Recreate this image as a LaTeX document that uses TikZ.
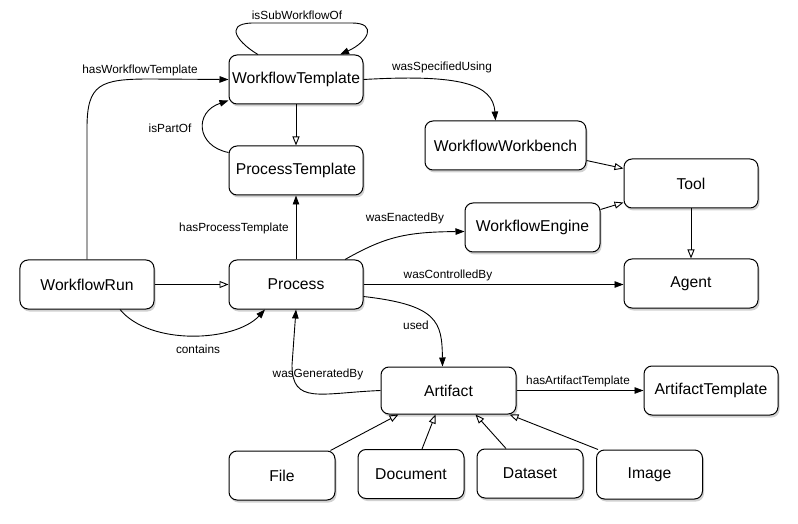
\documentclass[tikz,border=0pt]{standalone}
\usepackage{fontspec}
\setmainfont{Liberation Sans}
\usetikzlibrary{arrows.meta,shadows,calc}
\begin{document}
\begin{tikzpicture}[x=1bp,y=-1bp,
 box/.style={draw, line width=1bp, rounded corners=8bp, minimum width=134bp, minimum height=49bp, fill=white, inner sep=0pt,
   font=\fontsize{15.7bp}{18bp}\selectfont,
   drop shadow={shadow xshift=1.5bp, shadow yshift=-2.5bp, opacity=0.18, fill=black}},
 sbox/.style={box, minimum width=106bp},
 lbl/.style={font=\fontsize{11.8bp}{14bp}\selectfont, inner sep=0pt},
 conn/.style={line width=0.9bp},
 fa/.style={conn, -{Triangle[length=9bp,width=6.5bp]}},
 oa/.style={conn, -{Triangle[open,length=9bp,width=7bp]}},
]
\useasboundingbox (0,0) rectangle (798,524);

\node[box] (wt) at (296,79.5) {WorkflowTemplate};
\node[box] (pt) at (296,170.5) {ProcessTemplate};
\node[box, minimum width=161bp] (ww) at (505.5,145.5) {WorkflowWorkbench};
\node[box] (tl) at (691,183.5) {Tool};
\node[box, minimum width=135bp] (we) at (532.5,227.5) {WorkflowEngine};
\node[box] (ag) at (691,283.5) {Agent};
\node[box] (wr) at (87,284.5) {WorkflowRun};
\node[box] (pr) at (296,284.5) {Process};
\node[box, minimum width=135bp, minimum height=47bp] (ar) at (448.5,390.5) {Artifact};
\node[box] (at) at (711,390.5) {ArtifactTemplate};
\node[sbox] (fi) at (282,475.5) {File};
\node[sbox] (do) at (411,474) {Document};
\node[sbox] (ds) at (530,473.5) {Dataset};
\node[sbox] (im) at (649.5,474.5) {Image};

% isSubWorkflowOf (self loop)
\draw[fa] ([xshift=-38bp]wt.north) .. controls (240,44) and (222,24) .. (252,23)
  -- (352,23) .. controls (378,23) and (368,42) .. ([xshift=44bp]wt.north);
\node[lbl] (l1) at (297,15) {isSubWorkflowOf};

% hasWorkflowTemplate
\draw[fa] (wr.north) -- (87,128) .. controls (87,84) and (100,79) .. (150,79) -- (wt.west);
\node[lbl] (l2) at (140,70) {hasWorkflowTemplate};

% WorkflowTemplate -> ProcessTemplate
\draw[oa] (wt.south) -- (pt.north);

% isPartOf
\draw[fa] ([yshift=18bp]pt.west) .. controls (196,146) and (194,112) .. ([yshift=4bp]wt.south west);
\node[lbl] (l3) at (170,128) {isPartOf};

% wasSpecifiedUsing
\draw[fa] (wt.east) .. controls (460,74) and (493,84) .. ([xshift=-10bp]ww.north);
\node[lbl] (l4) at (442,67) {wasSpecifiedUsing};

% Workbench / Engine -> Tool
\draw[oa] ([yshift=-15bp]ww.east) -- ([yshift=15bp]tl.west);
\draw[oa] ([yshift=18bp]we.east) -- ([yshift=-19bp]tl.west);

% Tool -> Agent
\draw[oa] (tl.south) -- (ag.north);

% hasProcessTemplate
\draw[fa] (pr.north) -- (pt.south);
\node[lbl] (l5) at (234,228) {hasProcessTemplate};

% wasEnactedBy
\draw[fa] ([xshift=49bp]pr.north) .. controls (385,237) and (405,232) .. ([yshift=-4bp]we.west);
\node[lbl] (l6) at (405,218) {wasEnactedBy};

% wasControlledBy
\draw[fa] (pr.east) -- (pr.east -| ag.west);
\node[lbl] (l7) at (448,275) {wasControlledBy};

% used
\draw[fa] ([yshift=-12bp]pr.east) .. controls (438,305) and (442,322) .. ([xshift=-6bp]ar.north);
\node[lbl] (l8) at (416,325) {used};

% WorkflowRun -> Process
\draw[oa] (wr.east) -- (pr.west);

% contains
\draw[fa] ([xshift=33bp]wr.south) .. controls (150,346) and (235,342) .. ([xshift=-31bp]pr.south);
\node[lbl] (l9) at (198,349) {contains};

% wasGeneratedBy
\draw[fa] (ar.west) .. controls (320,393) and (292,405) .. (292,365) -- (pr.south);
\node[lbl] (l10) at (318,374) {wasGeneratedBy};

% hasArtifactTemplate
\draw[fa] (ar.east) -- (at.west);
\node[lbl] (l11) at (578,381) {hasArtifactTemplate};

% subclasses of Artifact
\draw[oa] ([xshift=-5bp]fi.north east) -- ([xshift=-50bp]ar.south);
\draw[oa] ([xshift=11bp]do.north) -- ([xshift=-13bp]ar.south);
\draw[oa] ([xshift=-24bp]ds.north) -- ([xshift=27bp]ar.south);
\draw[oa] ([xshift=2bp]im.north west) -- ([xshift=61bp]ar.south);
\end{tikzpicture}
\end{document}
